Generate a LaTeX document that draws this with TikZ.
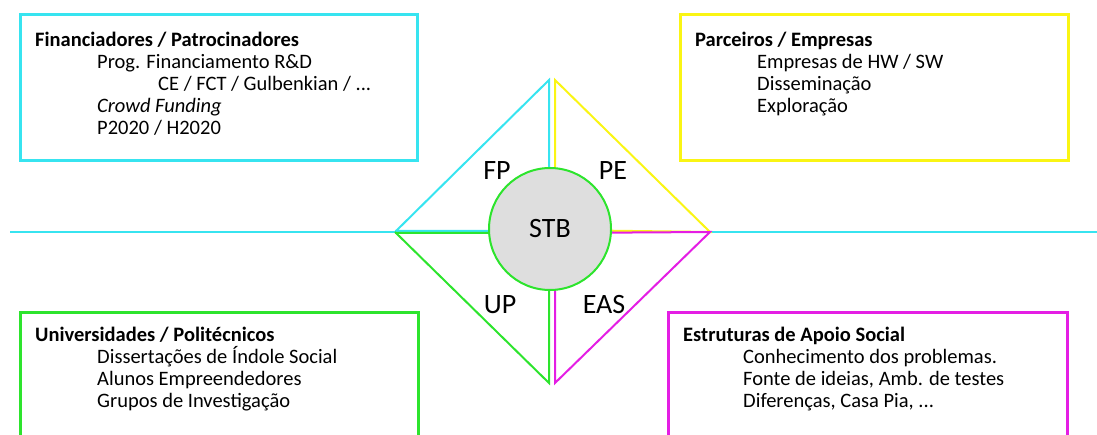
\documentclass[tikz,border=0pt]{standalone}
\usepackage{fontspec}
\setmainfont{Carlito}
\usetikzlibrary{calc,positioning}
\definecolor{fpcyan}{RGB}{55,228,240}
\definecolor{peyellow}{RGB}{250,245,20}
\definecolor{upgreen}{RGB}{45,228,45}
\definecolor{easmagenta}{RGB}{228,30,228}
\definecolor{stbgray}{RGB}{222,222,222}

\begin{document}
\begin{tikzpicture}[x=1pt,y=-1pt,
    box/.style={line width=3pt},
    tri/.style={line width=2pt},
    boxtxt/.style={anchor=north west,inner sep=0pt,align=left,
        font=\fontsize{20.5}{22}\selectfont},
    quad/.style={font=\fontsize{28}{30}\selectfont}]
        \useasboundingbox (0,0) rectangle (1097,435);
        \clip (0,0) rectangle (1097,435);

        % axis line
        \coordinate (W) at (10,232);
        \coordinate (E) at (1097,232);
        \draw[fpcyan,line width=2pt] (W) -- (E);

        % diamond
        \coordinate (L) at (395,232);
        \coordinate (R) at (710,232);
        \coordinate (Tc) at (549,80);
        \coordinate (Ty) at (555,80);
        \coordinate (Bg) at (549,383);
        \coordinate (Bm) at (555,383);
        \draw[tri,fpcyan] (L) -- (Tc) -- (549,231) -- (395,231);
        \draw[tri,peyellow] (R) -- (Ty) -- (555,230) -- cycle;
        \draw[tri,upgreen] (L) -- (Bg) -- (549,233) -- (395,233);
        \draw[tri,easmagenta] (R) -- (Bm) -- (555,233) -- cycle;

        \node[circle,draw=upgreen,fill=stbgray,line width=2pt,
              minimum size=122pt,inner sep=0pt,quad] (stb) at (550,229) {STB};

        \foreach \v/\x/\y/\t in
        {fp/497/171/FP,
         pe/613/171/PE,
         up/500/305/UP,
         eas/604/305/EAS}
        {
            \node[quad] (\v) at (\x,\y) {\t};
        };

        % boxes
        \draw[box,fpcyan] (20,15) rectangle (417,161);
        \draw[box,peyellow] (680,15) rectangle (1068,161);
        \draw[box,upgreen] (20,313) rectangle (418,445);
        \draw[box,easmagenta] (668,313) rectangle (1067,445);

        \node[boxtxt] (fptxt) at (35,32) {\textbf{Financiadores / Patrocinadores}\\
            \hspace*{62pt}Prog. Financiamento R\&D\\
            \hspace*{123pt}CE / FCT / Gulbenkian / ...\\
            \hspace*{62pt}\textit{Crowd Funding}\\
            \hspace*{62pt}P2020 / H2020};
        \node[boxtxt] (petxt) at (695,32) {\textbf{Parceiros / Empresas}\\
            \hspace*{62pt}Empresas de HW / SW\\
            \hspace*{62pt}Disseminação\\
            \hspace*{62pt}Exploração};
        \node[boxtxt] (uptxt) at (35,327) {\textbf{Universidades / Politécnicos}\\
            \hspace*{62pt}Dissertações de Índole Social\\
            \hspace*{62pt}Alunos Empreendedores\\
            \hspace*{62pt}Grupos de Investigação};
        \node[boxtxt] (eastxt) at (683,327) {\textbf{Estruturas de Apoio Social}\\
            \hspace*{60pt}Conhecimento dos problemas.\\
            \hspace*{60pt}Fonte de ideias, Amb. de testes\\
            \hspace*{60pt}Diferenças, Casa Pia, ...};
\end{tikzpicture}
\end{document}
